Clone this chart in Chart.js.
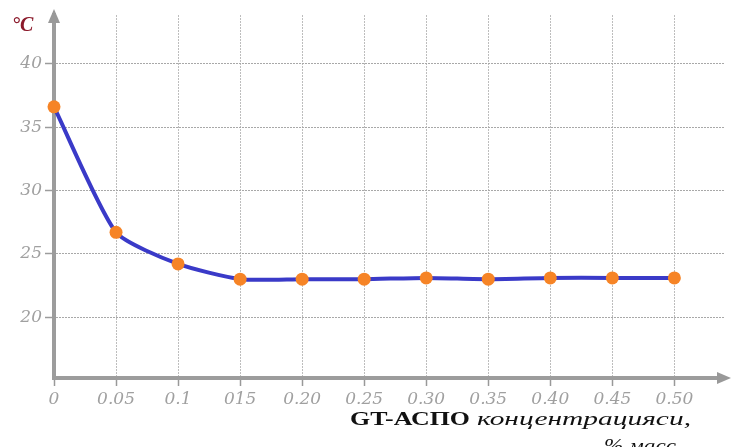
<!DOCTYPE html>
<html>
<head>
<meta charset="utf-8">
<script src="https://cdn.jsdelivr.net/npm/chart.js@4"></script>
<style>
  html, body { margin: 0; padding: 0; background: #fff; }
  #wrap { width: 731px; height: 447px; }
</style>
</head>
<body>
<div id="wrap"><canvas id="myChart" width="731" height="447"></canvas></div>
<script>
// data
const concentration = [0, 0.05, 0.1, 0.15, 0.20, 0.25, 0.30, 0.35, 0.40, 0.45, 0.50];
const temperature = [36.6, 26.7, 24.2, 23.0, 23.0, 23.0, 23.1, 23.0, 23.1, 23.1, 23.1];
const xTickLabels = ['0', '0.05', '0.1', '015', '0.20', '0.25', '0.30', '0.35', '0.40', '0.45', '0.50'];
const yTicks = [20, 25, 30, 35, 40];

const points = concentration.map((c, i) => ({ x: c, y: temperature[i] }));

// draw text stretched to a given width
function wideText(ctx, text, x, y, width) {
  const w = ctx.measureText(text).width;
  ctx.save();
  ctx.translate(x, y);
  ctx.scale(width / w, 1);
  ctx.fillText(text, 0, 0);
  ctx.restore();
}

// arrows and text that chart.js has no option for
const decorations = {
  id: 'decorations',
  afterDraw(chart) {
    const ctx = chart.ctx;
    const a = chart.chartArea;
    ctx.save();
    ctx.fillStyle = '#999';
    // y arrow
    ctx.beginPath();
    ctx.moveTo(a.left, a.top - 6);
    ctx.lineTo(a.left - 6, a.top + 8);
    ctx.lineTo(a.left + 6, a.top + 8);
    ctx.closePath();
    ctx.fill();
    // x arrow
    ctx.beginPath();
    ctx.moveTo(a.right + 7, a.bottom);
    ctx.lineTo(a.right - 7, a.bottom - 6);
    ctx.lineTo(a.right - 7, a.bottom + 6);
    ctx.closePath();
    ctx.fill();

    // unit
    ctx.fillStyle = '#8b1a2b';
    ctx.font = 'italic bold 20px "Liberation Serif"';
    ctx.textBaseline = 'alphabetic';
    ctx.fillText('°C', 12, 31);

    // x title
    ctx.fillStyle = '#111';
    ctx.font = 'bold 19px "Liberation Serif"';
    wideText(ctx, 'GT-АСПО', 350, 425, 120);
    ctx.font = 'italic 18px "Liberation Serif"';
    wideText(ctx, 'концентрацияси,', 477, 425, 214);
    wideText(ctx, '% масс', 604, 452, 72);
    ctx.restore();
  }
};

const config = {
  type: 'line',
  data: {
    datasets: [{
      data: points,
      borderColor: 'rgb(58, 58, 200)',
      borderWidth: 4,
      backgroundColor: 'rgb(246, 132, 38)',
      pointBackgroundColor: 'rgb(246, 132, 38)',
      pointBorderWidth: 0,
      pointRadius: 6.5,
      tension: 0.2,
      clip: false
    }]
  },
  options: {
    responsive: false,
    animation: false,
    layout: { padding: { top: 15, right: 7, left: 0, bottom: 0 } },
    plugins: { legend: { display: false }, tooltip: { enabled: false } },
    scales: {
      x: {
        type: 'linear',
        min: 0,
        max: 0.54,
        afterBuildTicks(scale) {
          scale.ticks = concentration.map(v => ({ value: v }));
        },
        afterFit(scale) { scale.height = 69; },
        ticks: {
          padding: 3,
          color: '#a0a0a0',
          font: { family: 'DejaVu Serif', style: 'italic', size: 17 },
          callback: (v, i) => xTickLabels[i]
        },
        grid: {
          color: ctx => ctx.index === 0 ? 'rgba(0,0,0,0)' : '#bdbdbd',
          lineWidth: 1,
          drawTicks: true,
          tickLength: 8,
          tickColor: '#999',
          tickBorderDash: [],
          tickWidth: 1.5
        },
        border: { color: '#9c9c9c', width: 4, dash: [2, 1] }
      },
      y: {
        type: 'linear',
        min: 15.2,
        max: 43.85,
        afterBuildTicks(scale) {
          scale.ticks = yTicks.map(v => ({ value: v }));
        },
        afterFit(scale) { scale.width = 54; },
        ticks: {
          padding: 3,
          color: '#a0a0a0',
          font: { family: 'DejaVu Serif', style: 'italic', size: 17 }
        },
        grid: {
          color: '#a8a8a8',
          lineWidth: 1,
          tickLength: 9,
          tickColor: '#9c9c9c',
          tickBorderDash: [],
          tickWidth: 1.5
        },
        border: { color: '#9c9c9c', width: 4, dash: [2, 1] }
      }
    }
  },
  plugins: [decorations]
};

var myChart = new Chart(document.getElementById('myChart'), config);
</script>
</body>
</html>
